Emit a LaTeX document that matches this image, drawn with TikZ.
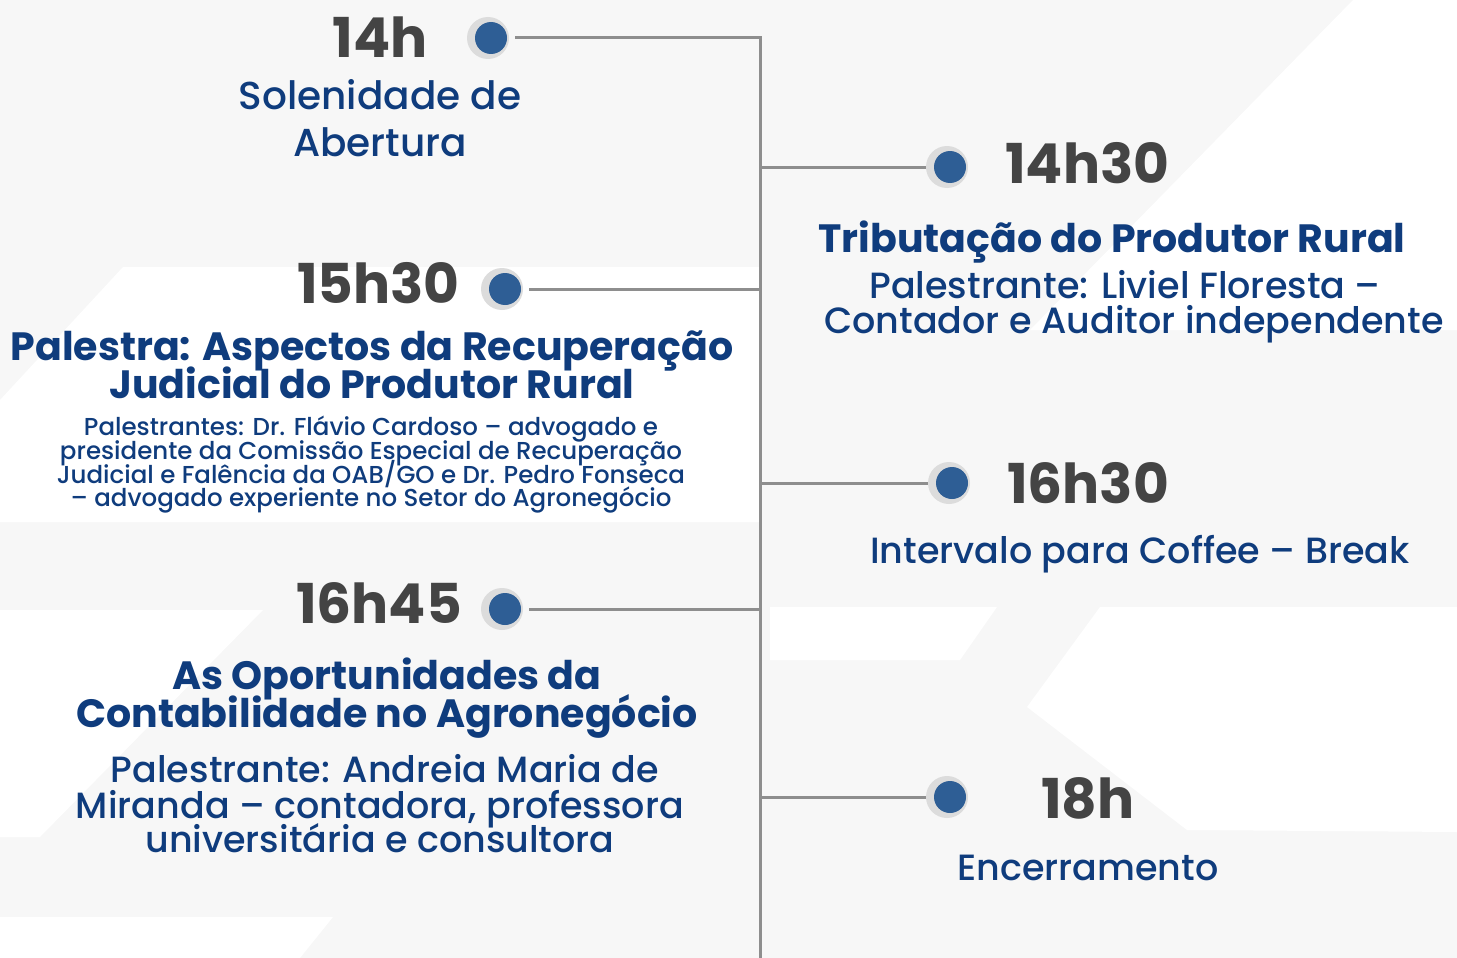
\documentclass[tikz,border=0pt]{standalone}
\usepackage{fontspec}
\setmainfont{Poppins}
\newfontfamily\pmed{Poppins Medium}
\usetikzlibrary{calc}
\definecolor{navy}{HTML}{0F3C7D}
\definecolor{tgray}{HTML}{444444}
\definecolor{lgray}{HTML}{8E8E8E}
\definecolor{dotblue}{HTML}{2E5E95}
\definecolor{halo}{HTML}{DCDCDC}
\definecolor{bg}{HTML}{F7F7F7}
\begin{document}
\begin{tikzpicture}[x=1pt,y=-1pt,
  timet/.style={font=\fontsize{55}{55}\selectfont\bfseries, text=tgray, inner sep=0, anchor=base},
  title/.style={font=\fontsize{39.5}{39.5}\selectfont\bfseries, text=navy, inner sep=0, anchor=base},
  body/.style={font=\pmed\fontsize{36.5}{36.5}\selectfont, text=navy, inner sep=0, anchor=base},
  bodyl/.style={font=\pmed\fontsize{39}{39}\selectfont, text=navy, inner sep=0, anchor=base},
  small/.style={font=\pmed\fontsize{24.5}{24.5}\selectfont, text=navy, inner sep=0, anchor=base},
  dotn/.style={circle, fill=dotblue, minimum size=32pt, inner sep=0, outer sep=8pt},
  conn/.style={draw=lgray, line width=3pt},
  bgshape/.style={fill=white}
]
\fill[bg] (0,0) rectangle (1457,958);
\useasboundingbox (0,0) rectangle (1457,958);
% faint background shapes
\fill[bgshape] (1353,0) -- (1457,0) -- (1457,330) -- (1030,330) -- cycle;
\fill[bgshape] (123,267) -- (760,267) -- (760,522) -- (0,522) -- (0,400) -- cycle;
\fill[bgshape] (0,610) -- (263,610) -- (40,837) -- (0,837) -- cycle;
\fill[bgshape] (0,917) -- (333,917) -- (300,958) -- (0,958) -- cycle;
\fill[bgshape] (770,607) -- (997,607) -- (960,660) -- (770,660) -- cycle;
\fill[bgshape] (1100,607) -- (1457,607) -- (1457,832) -- (1187,830) -- (1027,707) -- cycle;

% halos
\foreach \x/\y in {491/38, 950/167, 505/289, 952/483, 505/609, 950/797}
  \fill[halo] (\x-3,\y) circle (21);
% dots
\node[dotn] (d1) at (491,38) {};
\node[dotn] (d2) at (950,167) {};
\node[dotn] (d3) at (505,289) {};
\node[dotn] (d4) at (952,483) {};
\node[dotn] (d5) at (505,609) {};
\node[dotn] (d6) at (950,797) {};
% spine
\coordinate (top) at (760,38);
\coordinate (bot) at (760,958);
\coordinate (j2) at (760,167);
\coordinate (j3) at (760,289);
\coordinate (j4) at (760,483);
\coordinate (j5) at (760,609);
\coordinate (j6) at (760,797);
\draw[conn, line join=miter] (d1.east) -- (top) -- (bot);
\draw[conn] (j2) -- (d2.west);
\draw[conn] (d3.east) -- (j3);
\draw[conn] (j4) -- (d4.west);
\draw[conn] (d5.east) -- (j5);
\draw[conn] (j6) -- (d6.west);

% 14h
\node[timet] (t1) at (380,58) {14h};
\node[bodyl] (s1a) at (380,110) {Solenidade de};
\node[bodyl] (s1b) at (380,156) {Abertura};
% 14h30
\node[timet, anchor=base west] (t2) at (1005,183) {14h30};
\node[title] (s2a) at (1112,252) {Tributação do Produtor Rural};
\node[body] (s2b) at (1125,298) {Palestrante: Liviel Floresta –};
\node[body] (s2c) at (1134,333) {Contador e Auditor independente};
% 15h30
\node[timet, anchor=base east] (t3) at (460,303) {15h30};
\node[title] (s3a) at (372,360) {Palestra: Aspectos da Recuperação};
\node[title] (s3b) at (372,398) {Judicial do Produtor Rural};
\node[small] (s3c) at (371,435) {Palestrantes: Dr. Flávio Cardoso – advogado e};
\node[small] (s3d) at (371,459) {presidente da Comissão Especial de Recuperação};
\node[small] (s3e) at (371,483) {Judicial e Falência da OAB/GO e Dr. Pedro Fonseca};
\node[small] (s3f) at (371,506) {– advogado experiente no Setor do Agronegócio};
% 16h30
\node[timet, anchor=base west] (t4) at (1007,503) {16h30};
\node[body] (s4a) at (1140,563) {Intervalo para Coffee – Break};
% 16h45
\node[timet, anchor=base east] (t5) at (462,623) {16h45};
\node[title] (s5a) at (387,689) {As Oportunidades da};
\node[title] (s5b) at (387,727) {Contabilidade no Agronegócio};
\node[body] (s5c) at (385,782) {Palestrante: Andreia Maria de};
\node[body] (s5d) at (380,818) {Miranda – contadora, professora};
\node[body] (s5e) at (380,852) {universitária e consultora};
% 18h
\node[timet] (t6) at (1088,818) {18h};
\node[body] (s6a) at (1088,880) {Encerramento};
\end{tikzpicture}
\end{document}
